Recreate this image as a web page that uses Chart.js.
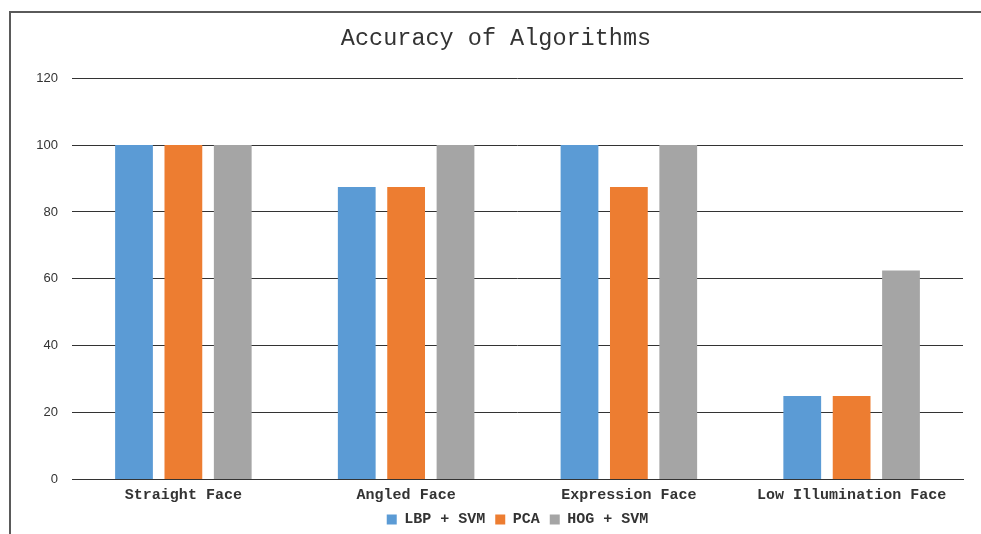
<!DOCTYPE html>
<html>
<head>
<meta charset="utf-8">
<script src="https://cdn.jsdelivr.net/npm/chart.js@4/dist/chart.umd.min.js"></script>
<style>
  html, body { margin: 0; padding: 0; background: #fff; }
  #wrap { position: relative; width: 981px; height: 534px; overflow: hidden; }
  #frame { position: absolute; left: 9px; top: 11px; width: 1000px; height: 600px;
           border-left: 2px solid #5a5a5a; border-top: 2px solid #5a5a5a;
           box-sizing: border-box; pointer-events: none; }
  canvas { position: absolute; left: 0; top: 0; }
</style>
</head>
<body>
<div id="wrap">
  <canvas id="c" width="981" height="534"></canvas>
  <div id="frame"></div>
</div>
<script>
const categories = ['Straight Face', 'Angled Face', 'Expression Face', 'Low Illumination Face'];
const lbpSvm = [100, 87.5, 100, 25];
const pca = [100, 87.5, 87.5, 25];
const hogSvm = [100, 100, 100, 62.5];
const yTicks = [0, 20, 40, 60, 80, 100, 120];

const mono = "'Liberation Mono', 'DejaVu Sans Mono', monospace";

new Chart(document.getElementById('c'), {
  type: 'bar',
  data: {
    labels: categories,
    datasets: [
      { label: 'LBP + SVM', data: lbpSvm, backgroundColor: '#5B9BD5' },
      { label: 'PCA', data: pca, backgroundColor: '#ED7D31' },
      { label: 'HOG + SVM', data: hogSvm, backgroundColor: '#A5A5A5' }
    ]
  },
  options: {
    responsive: false,
    animation: false,
    devicePixelRatio: 1,
    layout: { padding: { left: 11, right: 0, top: 25, bottom: -3 } },
    datasets: { bar: { categoryPercentage: 0.665, barPercentage: 0.765 } },
    plugins: {
      title: {
        display: true,
        text: 'Accuracy of Algorithms',
        color: '#333',
        font: { family: mono, size: 23.5, weight: 'normal', lineHeight: 1.2 },
        padding: { top: 0, bottom: 25 }
      },
      legend: {
        position: 'bottom',
        fullSize: false,
        labels: {
          color: '#333',
          boxWidth: 10, boxHeight: 10,
          padding: 10,
          font: { family: mono, size: 15, weight: 'bold' }
        }
      },
      tooltip: { enabled: false }
    },
    scales: {
      x: {
        afterFit: s => { s.height = 22.5; },
        grid: { display: false, drawTicks: false },
        border: { display: true, color: '#333', width: 1 },
        ticks: { color: '#333', padding: 7, font: { family: mono, size: 15, weight: 'bold' } }
      },
      y: {
        min: 0, max: 120,
        afterBuildTicks: s => { s.ticks = yTicks.map(v => ({ value: v })); },
        afterFit: s => { s.width = 61; },
        grid: { color: '#333', lineWidth: 1, drawTicks: false },
        border: { display: false },
        ticks: { color: '#333', padding: 14, font: { family: "'Liberation Sans', Arial, sans-serif", size: 13 } }
      },
      // empty strip on the right edge of the plot
      yRight: {
        type: 'linear',
        position: 'right',
        min: 0, max: 120,
        afterFit: s => { s.width = 18; },
        grid: { display: false, drawTicks: false },
        border: { display: false },
        ticks: { display: false }
      }
    }
  }
});
</script>
</body>
</html>
